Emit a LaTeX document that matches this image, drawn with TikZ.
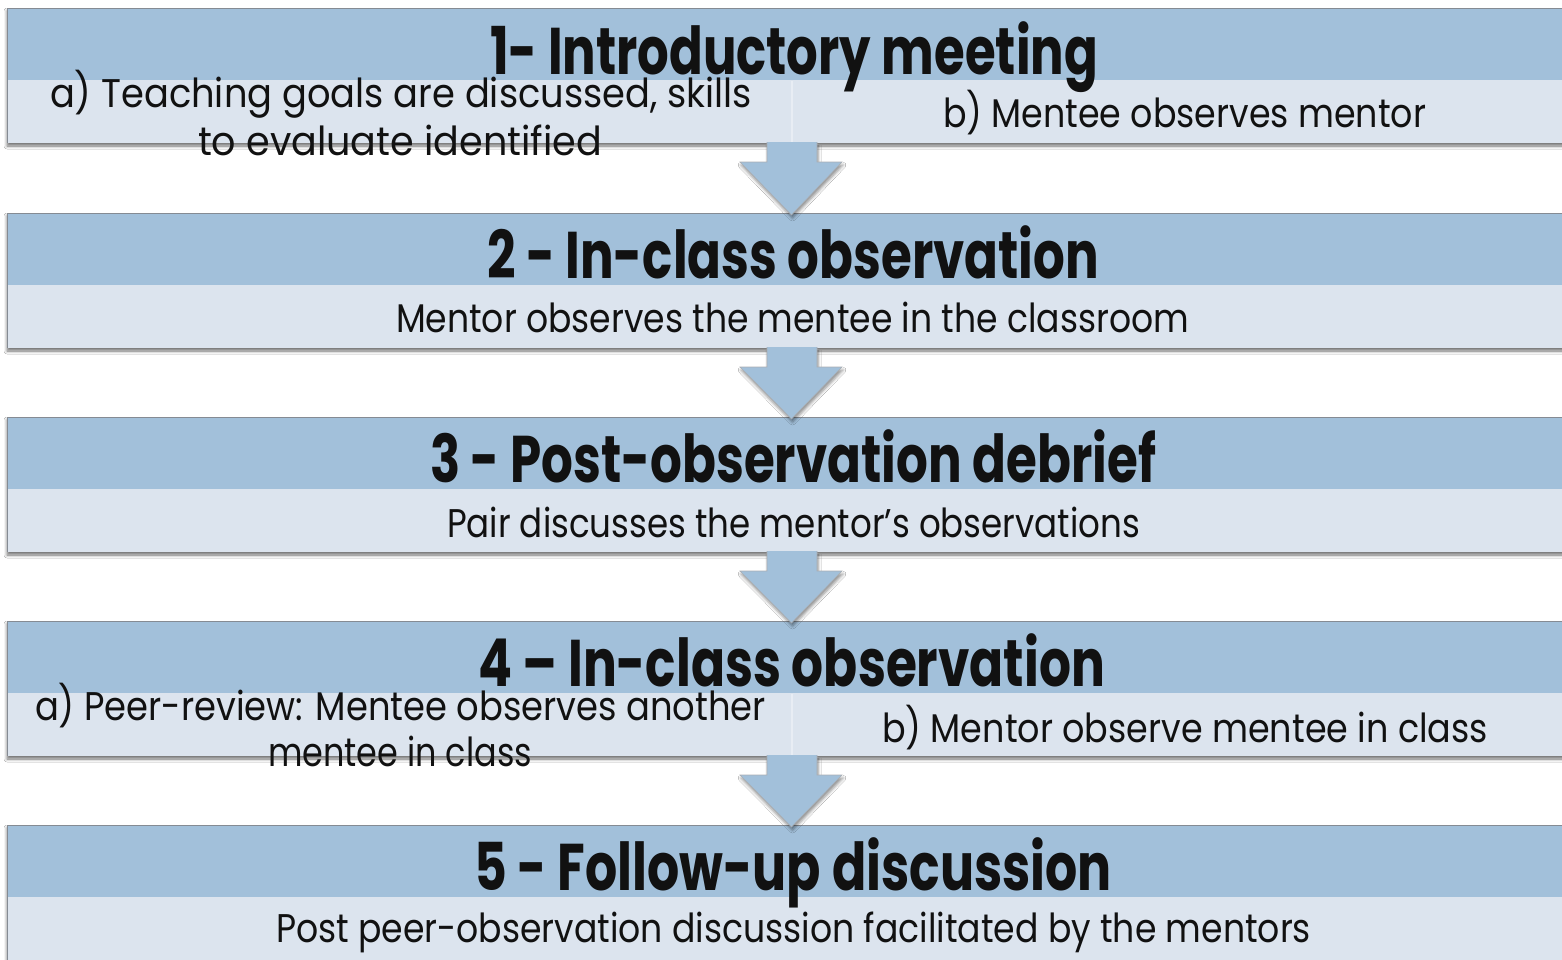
\documentclass[tikz,border=0pt]{standalone}
\usepackage{fontspec}
\setmainfont{Poppins}
\usetikzlibrary{shadows.blur,calc}
\definecolor{bandDark}{HTML}{A2C0DA}
\definecolor{bandLight}{HTML}{DCE4EE}
\definecolor{edgeGray}{HTML}{858B93}
\definecolor{divLine}{HTML}{E8EDF4}
\definecolor{txt}{HTML}{111111}
\newsavebox\fitbox
\newcommand\fitto[2]{\sbox\fitbox{#2}\pgfmathsetmacro\fitratio{#1/\the\wd\fitbox}\scalebox{\fitratio}[1]{\usebox\fitbox}}
\newcommand\stepframe[2]{%
  \node[boxframe] (#1) at (7,#2) {};
  \fill[bandDark] (#1.north west) rectangle ($(#1.north east)+(0,72)$);
  \draw[edgeGray, line width=1pt] (#1.south west) -- (#1.north west) -- (#1.north east);
}
\newcommand\flowarrow[2]{%
  \path[arrowsty] ($(#1.south west)+(760,-1)$) -- ($(#1.south west)+(760,19)$) -- ($(#1.south west)+(733,19)$) -- ($(#2.north west)+(784.5,2)$) -- ($(#1.south west)+(835,19)$) -- ($(#1.south west)+(810,19)$) -- ($(#1.south west)+(810,-1)$);
}
\begin{document}
\begin{tikzpicture}[x=1pt,y=-1pt,
  boxframe/.style={anchor=north west, rectangle, inner sep=0pt, outer sep=0pt,
    minimum width=1571pt, minimum height=135pt, fill=bandLight,
    blur shadow={shadow xshift=0pt, shadow yshift=-3pt, shadow blur radius=3pt, shadow opacity=55}},
  arrowsty/.style={fill=bandDark, draw=edgeGray!70, line width=0.6pt,
    blur shadow={shadow xshift=1pt, shadow yshift=-3pt, shadow blur radius=3pt, shadow opacity=45}},
  head/.style={anchor=base, inner sep=0pt, text=txt, font=\fontsize{66}{66}\selectfont\bfseries},
  sub/.style={anchor=base, inner sep=0pt, text=txt, font=\fontsize{40}{48}\selectfont},
  divider/.style={divLine, line width=1.5pt}
]
\useasboundingbox (0,0) rectangle (1562,959);
\fill[white] (0,0) rectangle (1562,959);

\stepframe{b1}{8}
\stepframe{b2}{213}
\stepframe{b3}{417}
\stepframe{b4}{621}
\stepframe{b5}{825}

\draw[divider] ($(b1.north west)+(785,73)$) -- ($(b1.south west)+(785,-1)$);
\draw[divider] ($(b4.north west)+(785,73)$) -- ($(b4.south west)+(785,-1)$);

\flowarrow{b1}{b2}
\flowarrow{b2}{b3}
\flowarrow{b3}{b4}
\flowarrow{b4}{b5}

% box 1
\node[head] (h1) at (794,74) {\fitto{608}{1- Introductory meeting}};
\node[sub] (s1a) at (401,107) {\fitto{702}{a) Teaching goals are discussed, skills}};
\node[sub] (s1b) at (400,155) {\fitto{404}{to evaluate identified}};
\node[sub] (s1c) at (1184.5,127) {\fitto{483}{b) Mentee observes mentor}};
% box 2
\node[head] (h2) at (793,278) {\fitto{612}{2 - In-class observation}};
\node[sub] (s2) at (792.5,332) {\fitto{793}{Mentor observes the mentee in the classroom}};
% box 3
\node[head] (h3) at (793,482) {\fitto{726}{3 - Post-observation debrief}};
\node[sub] (s3) at (793.5,537) {\fitto{693}{Pair discusses the mentor’s observations}};
% box 4
\node[head] (h4) at (791.5,686) {\fitto{627}{4 – In-class observation}};
\node[sub] (s4a) at (400.5,720) {\fitto{731}{a) Peer-review: Mentee observes another}};
\node[sub] (s4b) at (400,766) {\fitto{264}{mentee in class}};
\node[sub] (s4c) at (1185,742) {\fitto{606}{b) Mentor observe mentee in class}};
% box 5
\node[head] (h5) at (793,890) {\fitto{638}{5 - Follow-up discussion}};
\node[sub] (s5) at (793.5,942) {\fitto{1035}{Post peer-observation discussion facilitated by the mentors}};
\end{tikzpicture}
\end{document}
